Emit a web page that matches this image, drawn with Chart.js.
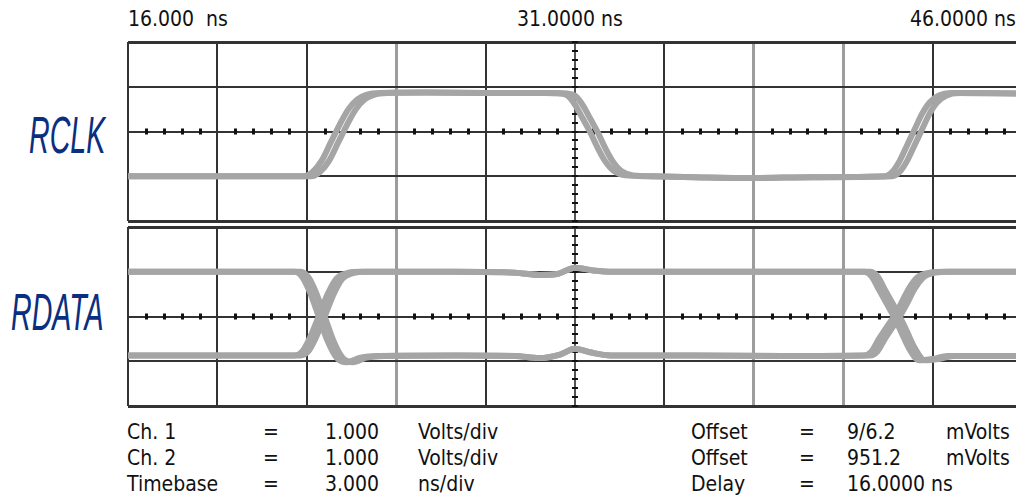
<!DOCTYPE html>
<html>
<head>
<meta charset="utf-8">
<script src="https://cdn.jsdelivr.net/npm/chart.js@4.4.1/dist/chart.umd.min.js"></script>
<style>
    html, body { margin: 0; padding: 0; background: #fff; overflow: hidden; }
    body { width: 1016px; height: 498px; position: relative; font-family: "DejaVu Sans Condensed", "DejaVu Sans", sans-serif; color: #111; }
    .panel { position: absolute; left: 0; width: 1016px; }
    .txt { position: absolute; font-size: 21px; line-height: 21px; white-space: pre; }
    .sig { position: absolute; font-family: "Liberation Sans Narrow", "Liberation Sans", sans-serif; font-style: italic; font-size: 52px; line-height: 52px; color: #0b2f80; transform-origin: left top; transform: scaleX(0.55); }
</style>
</head>
<body>
<div class="txt" style="left:128px; top:9px;">16.000  ns</div>
<div class="txt" style="left:517px; top:9px;">31.0000 ns</div>
<div class="txt" style="left:910px; top:9px;">46.0000 ns</div>

<div class="sig" style="left:29px; top:109px;">RCLK</div>
<div class="sig" style="left:11px; top:286px;">RDATA</div>

<div class="panel" style="top:0; height:224px;"><canvas id="rclkChart"></canvas></div>
<div class="panel" style="top:224px; height:186px;"><canvas id="rdataChart"></canvas></div>

<div class="txt" style="left:127px; top:422px;">Ch. 1</div>
<div class="txt" style="left:263px; top:422px;">=</div>
<div class="txt" style="left:325px; top:422px;">1.000</div>
<div class="txt" style="left:418px; top:422px;">Volts/div</div>
<div class="txt" style="left:691px; top:422px;">Offset</div>
<div class="txt" style="left:799px; top:422px;">=</div>
<div class="txt" style="left:847px; top:422px;">9/6.2</div>
<div class="txt" style="left:946px; top:422px;">mVolts</div>

<div class="txt" style="left:127px; top:448px;">Ch. 2</div>
<div class="txt" style="left:263px; top:448px;">=</div>
<div class="txt" style="left:325px; top:448px;">1.000</div>
<div class="txt" style="left:418px; top:448px;">Volts/div</div>
<div class="txt" style="left:691px; top:448px;">Offset</div>
<div class="txt" style="left:799px; top:448px;">=</div>
<div class="txt" style="left:847px; top:448px;">951.2</div>
<div class="txt" style="left:946px; top:448px;">mVolts</div>

<div class="txt" style="left:127px; top:474px;">Timebase</div>
<div class="txt" style="left:263px; top:474px;">=</div>
<div class="txt" style="left:325px; top:474px;">3.000</div>
<div class="txt" style="left:418px; top:474px;">ns/div</div>
<div class="txt" style="left:691px; top:474px;">Delay</div>
<div class="txt" style="left:799px; top:474px;">=</div>
<div class="txt" style="left:847px; top:474px;">16.0000 ns</div>

<script>
// time axis (ns), 3 ns/div, screen starts at 16 ns
const timeDivs = [16, 19, 22, 25, 28, 31, 34, 37, 40, 43];
const lightDivs = [25, 37, 40];
const voltDivs = [-2, -1, 0, 1, 2];

// RCLK trace, two edges of the jitter band (ns / V)
const rclkTimeA = [16, 21.9, 22.2, 22.5, 22.8, 23.1, 23.4, 23.7, 24.0, 24.45, 26, 28, 30, 30.5, 30.75, 31.0, 31.25, 31.5, 31.75, 32.0, 32.3, 32.7, 33.45, 35, 37, 39, 41.4, 41.65, 41.9, 42.15, 42.4, 42.65, 42.9, 43.2, 43.65, 45.8];
const rclkTimeB = [16, 22.15, 22.45, 22.75, 23.05, 23.35, 23.65, 23.95, 24.25, 24.7, 26, 28, 30, 30.75, 31.0, 31.25, 31.5, 31.75, 32.0, 32.25, 32.55, 32.95, 33.7, 35, 37, 39, 41.65, 41.9, 42.15, 42.4, 42.65, 42.9, 43.15, 43.45, 43.9, 45.8];
const rclkVolts = [-1.0, -1.0, -0.9, -0.65, -0.25, 0.15, 0.5, 0.72, 0.82, 0.86, 0.87, 0.86, 0.86, 0.85, 0.8, 0.6, 0.3, 0.0, -0.35, -0.65, -0.88, -0.98, -1.0, -1.02, -1.04, -1.02, -1.0, -0.9, -0.65, -0.3, 0.05, 0.4, 0.65, 0.8, 0.86, 0.85];

// RDATA eye: trace 1 falls at the first crossing and rises at the second
const data1TimeA = [16, 21.6, 21.85, 22.1, 22.4, 22.7, 23.0, 23.35, 23.8, 24.4, 27, 29.0, 29.8, 30.5, 31.0, 31.5, 32.2, 35, 38, 40.7, 40.95, 41.2, 41.45, 41.7, 41.95, 42.2, 42.5, 42.9, 43.4, 45.8];
const data1TimeB = [16, 21.8, 22.05, 22.3, 22.6, 22.9, 23.2, 23.55, 24.0, 24.6, 27, 29.0, 29.8, 30.5, 31.0, 31.5, 32.2, 35, 38, 40.9, 41.15, 41.4, 41.65, 41.9, 42.15, 42.4, 42.7, 43.1, 43.6, 45.8];
const data1Volts = [1.0, 1.0, 0.88, 0.55, 0.0, -0.55, -0.92, -1.02, -0.92, -0.88, -0.87, -0.88, -0.93, -0.85, -0.72, -0.8, -0.87, -0.87, -0.88, -0.87, -0.78, -0.5, -0.25, 0.0, 0.3, 0.62, 0.88, 0.98, 1.0, 1.0];

// trace 2 rises at the first crossing and falls at the second
const data2TimeA = [16, 21.6, 21.85, 22.1, 22.4, 22.7, 23.0, 23.35, 23.8, 27, 29.0, 29.8, 30.4, 31.0, 31.6, 32.3, 35, 38, 40.7, 40.95, 41.2, 41.45, 41.7, 41.95, 42.2, 42.55, 43.0, 43.5, 45.8];
const data2TimeB = [16, 21.8, 22.05, 22.3, 22.6, 22.9, 23.2, 23.55, 24.0, 27, 29.0, 29.8, 30.4, 31.0, 31.6, 32.3, 35, 38, 40.9, 41.15, 41.4, 41.65, 41.9, 42.15, 42.4, 42.75, 43.2, 43.7, 45.8];
const data2Volts = [-0.87, -0.87, -0.78, -0.48, 0.0, 0.5, 0.85, 0.97, 1.0, 1.0, 0.98, 0.93, 0.95, 1.09, 1.03, 1.0, 1.0, 1.0, 1.0, 0.9, 0.6, 0.3, 0.0, -0.35, -0.7, -0.98, -0.95, -0.88, -0.88];

const traceColor = '#a5a5a5';

function toPoints(xs, ys) {
    return xs.map((x, i) => ({ x: x, y: ys[i] }));
}

function traceSet(label, xs, ys) {
    return {
        label: label,
        data: toPoints(xs, ys),
        borderColor: traceColor,
        borderWidth: 6,
        pointRadius: 0,
        cubicInterpolationMode: 'monotone',
        fill: false,
    };
}

// small graticule marks along the centre lines
const graticule = {
    id: 'graticule',
    beforeDatasetsDraw(chart) {
        const ctx = chart.ctx;
        const xs = chart.scales.x;
        const ys = chart.scales.y;
        const y0 = ys.getPixelForValue(0);
        const x0 = xs.getPixelForValue(31);
        ctx.save();
        ctx.fillStyle = '#111';
        for (const d of timeDivs) {
            for (let k = 1; k < 5; k++) {
                const px = xs.getPixelForValue(d + k * 0.6);
                if (px > chart.chartArea.right) continue;
                ctx.fillRect(Math.round(px) - 1, y0 - 3, 3, 6);
            }
        }
        for (let v = -2; v < 2; v += 0.2) {
            const py = ys.getPixelForValue(v);
            ctx.fillRect(x0 - 3, Math.round(py) - 1, 6, 2);
        }
        ctx.restore();
    }
};

function makeOptions(padding) {
    return {
        responsive: true,
        maintainAspectRatio: false,
        animation: false,
        layout: { padding: padding },
        plugins: {
            legend: { display: false },
            tooltip: { enabled: false },
        },
        scales: {
            x: {
                type: 'linear',
                min: 16,
                max: 45.8,
                afterBuildTicks: (scale) => {
                    scale.ticks = timeDivs.map(v => ({ value: v }));
                },
                ticks: { display: false },
                border: { display: false },
                grid: {
                    drawTicks: false,
                    color: (c) => lightDivs.includes(c.tick.value) ? '#9d9d9d' : (c.tick.value === 31 ? '#555' : '#333'),
                    lineWidth: (c) => lightDivs.includes(c.tick.value) ? 3 : 2,
                },
            },
            y: {
                type: 'linear',
                min: -2,
                max: 2,
                afterBuildTicks: (scale) => {
                    scale.ticks = voltDivs.map(v => ({ value: v }));
                },
                ticks: { display: false },
                border: { display: false },
                grid: {
                    drawTicks: false,
                    color: '#333',
                    lineWidth: (c) => (c.tick.value === 2 || c.tick.value === -2) ? 3 : 2,
                },
            },
        },
    };
}

const rclkChart = new Chart(document.getElementById('rclkChart').getContext('2d'), {
    type: 'line',
    data: {
        datasets: [
            traceSet('RCLK', rclkTimeA, rclkVolts),
            traceSet('RCLK jitter', rclkTimeB, rclkVolts),
        ],
    },
    options: makeOptions({ left: 128, top: 42, right: 0, bottom: 3 }),
    plugins: [graticule],
});

const rdataChart = new Chart(document.getElementById('rdataChart').getContext('2d'), {
    type: 'line',
    data: {
        datasets: [
            traceSet('RDATA 1', data1TimeA, data1Volts),
            traceSet('RDATA 1 jitter', data1TimeB, data1Volts),
            traceSet('RDATA 2', data2TimeA, data2Volts),
            traceSet('RDATA 2 jitter', data2TimeB, data2Volts),
        ],
    },
    options: makeOptions({ left: 128, top: 3, right: 0, bottom: 4 }),
    plugins: [graticule],
});
</script>
</body>
</html>
